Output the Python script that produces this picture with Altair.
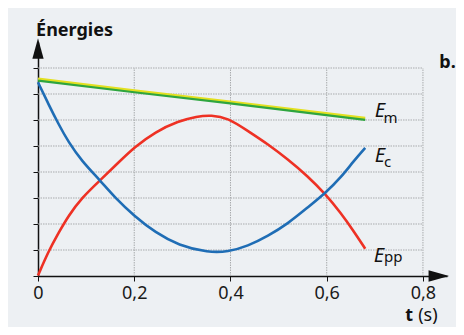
import altair as alt
import pandas as pd

# ---- data ----
t_m = [0.0, 0.2, 0.395, 0.68]
e_m = [7.54, 7.09, 6.67, 6.03]

t_c = [0.0, 0.022, 0.043, 0.063, 0.091, 0.129, 0.16, 0.2, 0.244, 0.292, 0.354, 0.395,
       0.436, 0.478, 0.519, 0.56, 0.598, 0.629, 0.656, 0.68]
e_c = [7.45, 6.6, 5.83, 5.16, 4.42, 3.68, 3.01, 2.31, 1.67, 1.18, 0.90, 0.93,
       1.15, 1.54, 2.01, 2.63, 3.20, 3.78, 4.42, 4.93]

t_pp = [0.0, 0.022, 0.043, 0.063, 0.091, 0.129, 0.167, 0.2, 0.244, 0.292, 0.33, 0.36,
        0.395, 0.436, 0.478, 0.519, 0.56, 0.598, 0.629, 0.656, 0.68]
e_pp = [0.02, 0.96, 1.67, 2.31, 3.01, 3.68, 4.36, 4.95, 5.55, 5.96, 6.14, 6.19,
        6.08, 5.58, 5.07, 4.49, 3.85, 3.14, 2.43, 1.73, 1.05]

x_ticks = [0, 0.2, 0.4, 0.6, 0.8]
y_levels = [0, 1, 2, 3, 4, 5, 6, 7, 8]
x_max, y_max = 0.85, 9

FONT = "Noto Sans"

df_m = pd.DataFrame({"t": t_m, "E": e_m})
df_c = pd.DataFrame({"t": t_c, "E": e_c})
df_pp = pd.DataFrame({"t": t_pp, "E": e_pp})

xs = alt.Scale(domain=[0, x_max], nice=False, zero=False)
ys = alt.Scale(domain=[0, y_max], nice=False, zero=False)

x_axis = alt.Axis(
    values=x_ticks, grid=False, title=None, format=".1~f",
    labelExpr="replace(datum.label, '.', ',')", labelFont=FONT, labelFontSize=18,
    labelColor="#1a1a1a", labelPadding=3, tickSize=5, tickColor="#111",
    domainColor="#111", domainWidth=1.5, labelFlush=False)
y_axis = alt.Axis(
    values=y_levels, grid=False, title=None, labels=False, tickSize=5,
    tickColor="#111", domainColor="#111", domainWidth=1.5)

X = lambda f: alt.X(f, type="quantitative", scale=xs, axis=x_axis)
Y = lambda f: alt.Y(f, type="quantitative", scale=ys, axis=y_axis)

# grid
hgrid = pd.DataFrame({"y": y_levels[1:], "x0": 0, "x1": 0.8})
vgrid = pd.DataFrame({"x": x_ticks[1:], "y0": 0, "y1": 8})
grid_h = alt.Chart(hgrid).mark_rule(color="#a9abad", strokeWidth=1, strokeDash=[1.5, 1]).encode(
    x=X("x0"), x2="x1", y=Y("y"))
grid_v = alt.Chart(vgrid).mark_rule(color="#a9abad", strokeWidth=1, strokeDash=[1.5, 1]).encode(
    x=X("x"), y=Y("y0"), y2="y1")

arrow_up = alt.Chart(pd.DataFrame({"t": [0.0], "E": [8.75]})).mark_point(
    shape="M0,-1L0.55,1L-0.55,1Z", size=420, filled=True, color="#111", opacity=1).encode(
    x=X("t"), y=Y("E"))
arrow_right = alt.Chart(pd.DataFrame({"t": [0.833], "E": [0.0]})).mark_point(
    shape="M1,0L-1,-0.55L-1,0.55Z", size=420, filled=True, color="#111", opacity=1).encode(
    x=X("t"), y=Y("E"))

line_pp = alt.Chart(df_pp).mark_line(color="#ee3124", strokeWidth=2.6, interpolate="basis").encode(
    x=X("t"), y=Y("E"))
line_c = alt.Chart(df_c).mark_line(color="#1f6db5", strokeWidth=2.6, interpolate="basis").encode(
    x=X("t"), y=Y("E"))
line_m_y = alt.Chart(df_m).mark_line(color="#e3e020", strokeWidth=3.2, yOffset=-0.8).encode(
    x=X("t"), y=Y("E"))
line_m = alt.Chart(df_m).mark_line(color="#2ea53f", strokeWidth=2.2, yOffset=0.6).encode(
    x=X("t"), y=Y("E"))

# annotations
ann_E = pd.DataFrame({"t": [0.70, 0.70, 0.698], "E": [6.1, 4.4, 0.55], "txt": ["E", "E", "E"]})
ann_sub = pd.DataFrame({"t": [0.718, 0.719, 0.719], "E": [5.88, 4.18, 0.52], "txt": ["m", "c", "pp"]})
ann_bold = pd.DataFrame({"t": [-0.004, 0.834, 0.763], "E": [9.25, 8.0, -1.72],
                         "txt": ["Énergies", "b.", "t"]})
ann_reg = pd.DataFrame({"t": [0.79], "E": [-1.72], "txt": ["(s)"]})

t_E = alt.Chart(ann_E).mark_text(font=FONT, fontSize=20, fontStyle="italic", align="left",
                                 baseline="alphabetic", color="#111").encode(
    x=X("t"), y=Y("E"), text="txt:N")
t_sub = alt.Chart(ann_sub).mark_text(font=FONT, fontSize=15, align="left",
                                     baseline="alphabetic", color="#111").encode(
    x=X("t"), y=Y("E"), text="txt:N")
t_bold = alt.Chart(ann_bold).mark_text(font=FONT, fontSize=18, fontWeight="bold", align="left",
                                       baseline="alphabetic", color="#111").encode(
    x=X("t"), y=Y("E"), text="txt:N")
t_reg = alt.Chart(ann_reg).mark_text(font=FONT, fontSize=18, align="left",
                                     baseline="alphabetic", color="#111").encode(
    x=X("t"), y=Y("E"), text="txt:N")

chart = alt.layer(
    grid_h, grid_v, line_pp, line_c, line_m_y, line_m,
    arrow_up, arrow_right, t_E, t_sub, t_bold, t_reg
).properties(
    width=409, height=234,
    autosize=alt.AutoSizeParams(type="none"),
    padding={"left": 30, "top": 34, "right": 9, "bottom": 51},
    background="#edf0f3",
).configure_view(stroke=None)

chart.save("out.html", embed_options={"renderer": "svg", "actions": False})
